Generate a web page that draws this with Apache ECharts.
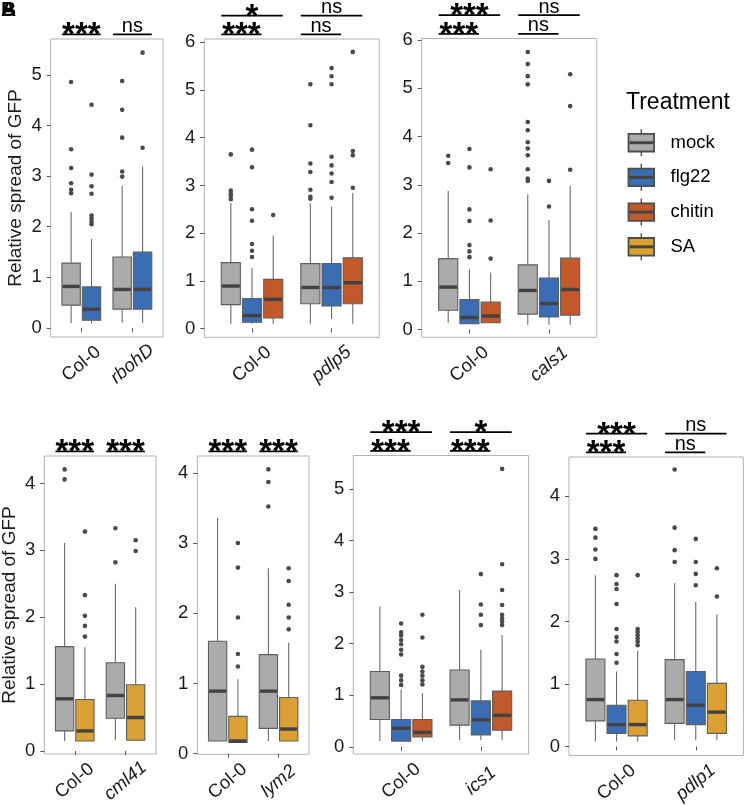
<!DOCTYPE html>
<html><head><meta charset="utf-8">
<script src="https://cdn.jsdelivr.net/npm/echarts@6/dist/echarts.min.js"></script>
<style>html,body{margin:0;padding:0;background:#fff}#c{width:745px;height:805px}</style>
</head><body><div id="c"></div>
<script>
// ================= DATA =================
const treatments = ['mock', 'flg22', 'chitin', 'SA'];

// stats per box: [lower whisker, Q1, median, Q3, upper whisker]
// ---- rbohD ----
const rbohD_categories = ['Col-0', 'rbohD'];
const rbohD_treatments = ['mock', 'flg22'];
const rbohD_mock = [[0.09, 0.45, 0.82, 1.28, 2.29], [0.10, 0.37, 0.76, 1.40, 2.81]];
const rbohD_mock_out = [[4.86, 3.53, 3.16, 2.86, 2.73, 2.66], [4.88, 4.31, 3.76, 3.09, 2.99]];
const rbohD_flg22 = [[0.085, 0.15, 0.37, 0.81, 1.76], [0.10, 0.37, 0.76, 1.50, 3.19]];
const rbohD_flg22_out = [[4.41, 3.03, 2.80, 2.65, 2.22, 2.16, 2.10, 2.05], [5.44, 3.56]];
const rbohD_signif = [['***'], ['ns']];
const rbohD_yTicks = [0, 1, 2, 3, 4, 5];

// ---- pdlp5 ----
const pdlp5_categories = ['Col-0', 'pdlp5'];
const pdlp5_treatments = ['mock', 'flg22', 'chitin'];
const pdlp5_mock = [[0.10, 0.50, 0.89, 1.38, 2.63], [0.10, 0.52, 0.86, 1.36, 2.62]];
const pdlp5_mock_out = [[3.65, 2.89, 2.83, 2.78, 2.71], [5.12, 4.26, 3.46, 3.28, 2.91, 2.76, 2.72]];
const pdlp5_flg22 = [[0.10, 0.13, 0.27, 0.63, 1.27], [0.20, 0.47, 0.86, 1.36, 2.55]];
const pdlp5_flg22_out = [[3.75, 3.38, 2.50, 2.26, 1.77, 1.63, 1.50], [5.46, 5.29, 5.12, 3.60, 3.42, 3.25, 3.07, 2.74]];
const pdlp5_chitin = [[0.10, 0.22, 0.61, 1.03, 1.95], [0.10, 0.52, 0.96, 1.48, 2.84]];
const pdlp5_chitin_out = [[2.38], [5.80, 3.72, 3.63, 2.95]];
const pdlp5_signif = [['***', '*'], ['ns', 'ns']];
const pdlp5_yTicks = [0, 1, 2, 3, 4, 5, 6];

// ---- cals1 ----
const cals1_categories = ['Col-0', 'cals1'];
const cals1_treatments = ['mock', 'flg22', 'chitin'];
const cals1_mock = [[0.14, 0.40, 0.88, 1.47, 2.87], [0.10, 0.32, 0.81, 1.34, 2.80]];
const cals1_mock_out = [[3.60, 3.45], [5.75, 5.50, 5.25, 5.08, 4.30, 4.13, 3.88, 3.75, 3.61, 3.32, 3.13, 3.08]];
const cals1_flg22 = [[0.12, 0.12, 0.25, 0.62, 1.25], [0.10, 0.26, 0.54, 1.07, 2.27]];
const cals1_flg22_out = [[3.74, 3.36, 2.49, 2.25, 1.75, 1.62, 1.50], [3.08, 2.55]];
const cals1_chitin = [[0.14, 0.14, 0.28, 0.57, 1.18], [0.10, 0.30, 0.83, 1.48, 2.98]];
const cals1_chitin_out = [[3.32, 2.26, 1.47], [5.29, 4.63, 3.31]];
const cals1_signif = [['***', '***'], ['ns', 'ns']];
const cals1_yTicks = [0, 1, 2, 3, 4, 5, 6];

// ---- cml41 ----
const cml41_categories = ['Col-0', 'cml41'];
const cml41_treatments = ['mock', 'SA'];
const cml41_mock = [[0.15, 0.30, 0.78, 1.56, 3.11], [0.16, 0.49, 0.83, 1.32, 2.50]];
const cml41_mock_out = [[4.21, 4.06], [3.33, 2.82]];
const cml41_SA = [[0.15, 0.15, 0.30, 0.77, 1.55], [0.16, 0.16, 0.50, 0.99, 2.15]];
const cml41_SA_out = [[3.28, 2.33, 2.02, 1.87, 1.71], [3.15, 2.99]];
const cml41_signif = [['***'], ['***']];
const cml41_yTicks = [0, 1, 2, 3, 4];

// ---- lym2 ----
const lym2_categories = ['Col-0', 'lym2'];
const lym2_treatments = ['mock', 'SA'];
const lym2_mock = [[0.18, 0.18, 0.89, 1.60, 3.36], [0.18, 0.36, 0.89, 1.41, 2.64]];
const lym2_mock_out = [[], [4.05, 3.87, 3.52]];
const lym2_SA = [[0.16, 0.16, 0.18, 0.53, 1.06], [0.18, 0.18, 0.35, 0.80, 1.58]];
const lym2_SA_out = [[3.00, 2.65, 1.94, 1.42, 1.24], [2.64, 2.46, 2.12, 1.94, 1.77]];
const lym2_signif = [['***'], ['***']];
const lym2_yTicks = [0, 1, 2, 3, 4];

// ---- ics1 ----
const ics1_categories = ['Col-0', 'ics1'];
const ics1_treatments = ['mock', 'flg22', 'chitin'];
const ics1_mock = [[0.11, 0.53, 0.95, 1.46, 2.72], [0.13, 0.42, 0.91, 1.49, 3.04]];
const ics1_mock_out = [[], []];
const ics1_flg22 = [[0.11, 0.11, 0.36, 0.53, 1.11], [0.13, 0.23, 0.52, 0.89, 1.88]];
const ics1_flg22_out = [[2.39, 2.22, 2.16, 2.07, 1.99, 1.88, 1.79, 1.38, 1.29, 1.20], [3.35, 2.76, 2.56, 2.36]];
const ics1_chitin = [[0.11, 0.19, 0.28, 0.53, 1.04], [0.13, 0.32, 0.61, 1.08, 2.17]];
const ics1_chitin_out = [[2.56, 2.12, 1.55, 1.46, 1.38, 1.29, 1.21], [5.39, 3.54, 3.04, 2.75, 2.56, 2.49, 2.43, 2.36]];
const ics1_signif = [['***', '***'], ['***', '*']];
const ics1_yTicks = [0, 1, 2, 3, 4, 5];

// ---- pdlp1 ----
const pdlp1_categories = ['Col-0', 'pdlp1'];
const pdlp1_treatments = ['mock', 'flg22', 'SA'];
const pdlp1_mock = [[0.08, 0.41, 0.75, 1.40, 2.74], [0.10, 0.37, 0.75, 1.39, 2.61]];
const pdlp1_mock_out = [[3.48, 3.34, 3.15, 3.00], [4.43, 3.50, 3.14, 2.95]];
const pdlp1_flg22 = [[0.08, 0.21, 0.35, 0.66, 1.20], [0.10, 0.35, 0.66, 1.20, 2.31]];
const pdlp1_flg22_out = [[2.74, 2.60, 2.52, 2.28, 1.88, 1.75, 1.68, 1.48, 1.34], [3.32, 2.95, 2.76, 2.58]];
const pdlp1_SA = [[0.08, 0.17, 0.35, 0.74, 1.53], [0.10, 0.21, 0.55, 1.01, 2.11]];
const pdlp1_SA_out = [[2.74, 1.88, 1.83, 1.78, 1.73, 1.68, 1.62], [2.85, 2.40]];
const pdlp1_signif = [['***', '***'], ['ns', 'ns']];
const pdlp1_yTicks = [0, 1, 2, 3, 4];

const yAxisTitle = 'Relative spread of GFP';
const legendTitle = 'Treatment';

// ================= STYLE / LAYOUT =================
const FONT = "'Liberation Sans', Arial, Helvetica, sans-serif";
const COLORS = { mock: '#ABABAB', flg22: '#3B6DB4', chitin: '#C2592A', SA: '#DBA033' };

const panels = [
  { categories: rbohD_categories, treatments: rbohD_treatments, stats: { mock: rbohD_mock, flg22: rbohD_flg22 }, outliers: { mock: rbohD_mock_out, flg22: rbohD_flg22_out }, signif: rbohD_signif, ticks: rbohD_yTicks,
    layout: { left: 50.7, top: 39, width: 112.3, height: 298, yMin: -0.18, yMax: 5.71, title: true } },
  { categories: pdlp5_categories, treatments: pdlp5_treatments, stats: { mock: pdlp5_mock, flg22: pdlp5_flg22, chitin: pdlp5_chitin }, outliers: { mock: pdlp5_mock_out, flg22: pdlp5_flg22_out, chitin: pdlp5_chitin_out }, signif: pdlp5_signif, ticks: pdlp5_yTicks,
    layout: { left: 204.3, top: 39, width: 175, height: 298.3, yMin: -0.185, yMax: 6.07 } },
  { categories: cals1_categories, treatments: cals1_treatments, stats: { mock: cals1_mock, flg22: cals1_flg22, chitin: cals1_chitin }, outliers: { mock: cals1_mock_out, flg22: cals1_flg22_out, chitin: cals1_chitin_out }, signif: cals1_signif, ticks: cals1_yTicks,
    layout: { left: 421.7, top: 38.5, width: 175, height: 298.8, yMin: -0.16, yMax: 6.03 } },
  { categories: cml41_categories, treatments: cml41_treatments, stats: { mock: cml41_mock, SA: cml41_SA }, outliers: { mock: cml41_mock_out, SA: cml41_SA_out }, signif: cml41_signif, ticks: cml41_yTicks,
    layout: { left: 44.3, top: 456, width: 111.7, height: 298, yMin: -0.045, yMax: 4.41, title: true } },
  { categories: lym2_categories, treatments: lym2_treatments, stats: { mock: lym2_mock, SA: lym2_SA }, outliers: { mock: lym2_mock_out, SA: lym2_SA_out }, signif: lym2_signif, ticks: lym2_yTicks,
    layout: { left: 197.3, top: 456, width: 111.7, height: 298.3, yMin: -0.01, yMax: 4.24 } },
  { categories: ics1_categories, treatments: ics1_treatments, stats: { mock: ics1_mock, flg22: ics1_flg22, chitin: ics1_chitin }, outliers: { mock: ics1_mock_out, flg22: ics1_flg22_out, chitin: ics1_chitin_out }, signif: ics1_signif, ticks: ics1_yTicks,
    layout: { left: 353.3, top: 455.5, width: 175.4, height: 298.5, yMin: -0.14, yMax: 5.65 } },
  { categories: pdlp1_categories, treatments: pdlp1_treatments, stats: { mock: pdlp1_mock, flg22: pdlp1_flg22, SA: pdlp1_SA }, outliers: { mock: pdlp1_mock_out, flg22: pdlp1_flg22_out, SA: pdlp1_SA_out }, signif: pdlp1_signif, ticks: pdlp1_yTicks,
    layout: { left: 569, top: 457, width: 174.3, height: 298.5, yMin: -0.144, yMax: 4.63 } }
];

function boxRenderer(dodge, halfW, color) {
  return function (params, api) {
    const c = api.value(0) + dodge;
    const lo = api.coord([c, api.value(1)]);
    const q1 = api.coord([c, api.value(2)]);
    const md = api.coord([c, api.value(3)]);
    const q3 = api.coord([c, api.value(4)]);
    const hi = api.coord([c, api.value(5)]);
    const left = api.coord([c - halfW, 0])[0];
    const right = api.coord([c + halfW, 0])[0];
    const x = lo[0];
    return { type: 'group', children: [
      { type: 'line', shape: { x1: x, y1: hi[1], x2: x, y2: q3[1] }, style: { stroke: '#6a6a6a', lineWidth: 1.1 } },
      { type: 'line', shape: { x1: x, y1: q1[1], x2: x, y2: lo[1] }, style: { stroke: '#6a6a6a', lineWidth: 1.1 } },
      { type: 'rect', shape: { x: left, y: q3[1], width: right - left, height: Math.max(q1[1] - q3[1], 0.5) }, style: { fill: color, stroke: '#5e5e5e', lineWidth: 1.1 } },
      { type: 'line', shape: { x1: left + 0.6, y1: md[1], x2: right - 0.6, y2: md[1] }, style: { stroke: '#424242', lineWidth: 3.4 } }
    ] };
  };
}
function outlierRenderer(dodge) {
  return function (params, api) {
    const p = api.coord([api.value(0) + dodge, api.value(1)]);
    return { type: 'circle', shape: { cx: p[0], cy: p[1], r: 2.3 }, style: { fill: '#4a4a4a' } };
  };
}
function annRenderer(ann, n) {
  const slot = 0.8 / n, halfW = 0.45 * slot;
  return function (params, api) {
    const a = ann[params.dataIndex];
    const off0 = (0 - (n - 1) / 2) * slot, offj = (a.j - (n - 1) / 2) * slot;
    const x1 = api.coord([a.cat + off0 - halfW, 0])[0];
    const x2 = api.coord([a.cat + offj + halfW, 0])[0];
    const ly = params.coordSys.y - (a.j === 1 ? 4.7 : 23.3);
    const star = a.text.indexOf('*') >= 0;
    return { type: 'group', children: [
      { type: 'line', shape: { x1: x1, y1: ly, x2: x2, y2: ly }, style: { stroke: '#000', lineWidth: 1.8 } },
      { type: 'text', x: (x1 + x2) / 2, y: star ? ly + 2 : ly - 8,
        style: { text: a.text, fill: '#000', fontFamily: FONT, fontSize: star ? 33 : 20, fontWeight: star ? 'bold' : 'normal', align: 'center', verticalAlign: 'middle' } }
    ] };
  };
}

const grids = [], xAxes = [], yAxes = [], series = [];
panels.forEach(function (p, gi) {
  const L = p.layout;
  grids.push({ left: L.left, top: L.top, width: L.width, height: L.height, show: true, borderColor: '#b3b3b3', borderWidth: 1, backgroundColor: 'transparent', containLabel: false, outerBoundsMode: 'none' });
  const catVals = p.categories.map(function (_, i) { return i + 1; });
  xAxes.push({
    type: 'value', gridIndex: gi, min: 0.4, max: p.categories.length + 0.6,
    axisLine: { show: false }, splitLine: { show: false },
    axisTick: { show: true, length: 4, lineStyle: { color: '#555' }, customValues: catVals },
    axisLabel: {
      customValues: catVals, rotate: 40, align: 'center', verticalAlign: 'middle', margin: 27,
      fontSize: 18.5, fontFamily: FONT, color: '#1a1a1a',
      formatter: function (v) { const s = p.categories[Math.round(v) - 1]; return s === 'Col-0' ? s : '{i|' + s + '}'; },
      rich: { i: { fontStyle: 'italic', fontSize: 18.5, fontFamily: FONT, color: '#1a1a1a' } }
    }
  });
  yAxes.push({
    type: 'value', gridIndex: gi, min: L.yMin, max: L.yMax,
    axisLine: { show: false }, splitLine: { show: false },
    axisTick: { show: true, length: 4, lineStyle: { color: '#555' }, customValues: p.ticks },
    axisLabel: { customValues: p.ticks, fontSize: 18.5, fontFamily: FONT, color: '#1a1a1a', margin: 9 },
    name: L.title ? yAxisTitle : '', nameLocation: 'middle', nameGap: 25, nameMoveOverlap: false,
    nameTextStyle: { fontSize: 19, fontFamily: FONT, color: '#1a1a1a' }
  });
  const n = p.treatments.length, slot = 0.8 / n, halfW = 0.45 * slot;
  p.treatments.forEach(function (t, ti) {
    const dodge = (ti - (n - 1) / 2) * slot;
    series.push({ type: 'custom', name: t, xAxisIndex: gi, yAxisIndex: gi, encode: { x: 0, y: [1, 2, 3, 4, 5] },
      data: p.stats[t].map(function (s, ci) { return [ci + 1].concat(s); }), renderItem: boxRenderer(dodge, halfW, COLORS[t]), z: 2, silent: true });
    const od = [];
    p.outliers[t].forEach(function (arr, ci) { arr.forEach(function (v) { od.push([ci + 1, v]); }); });
    series.push({ type: 'custom', name: t + ' outliers', xAxisIndex: gi, yAxisIndex: gi, encode: { x: 0, y: 1 },
      data: od, renderItem: outlierRenderer(dodge), z: 3, silent: true });
  });
  const ann = [];
  p.signif.forEach(function (labels, ci) { labels.forEach(function (txt, k) { ann.push({ cat: ci + 1, j: k + 1, text: txt }); }); });
  series.push({ type: 'custom', xAxisIndex: gi, yAxisIndex: gi, encode: { x: 0, y: 1 },
    data: ann.map(function (a) { return [a.cat, a.j]; }), renderItem: annRenderer(ann, n), z: 4, silent: true, clip: false });
});

// legend (drawn from the treatments list)
const gfx = [
  { type: 'text', x: 1, y: 0, style: { text: 'A', fontFamily: FONT, fontSize: 21, fontWeight: 'bold', fill: '#000' } },
  { type: 'text', x: 1, y: 0, style: { text: 'B', fontFamily: FONT, fontSize: 21, fontWeight: 'bold', fill: '#000' } },
  { type: 'text', x: 626, y: 103, style: { text: legendTitle, fontFamily: FONT, fontSize: 23, fill: '#000', verticalAlign: 'middle' } }
];
treatments.forEach(function (t, i) {
  const cy = 142.7 + i * 34.7;
  gfx.push({ type: 'line', shape: { x1: 641.3, y1: cy - 13.5, x2: 641.3, y2: cy + 13.5 }, style: { stroke: '#555', lineWidth: 1.5 } });
  gfx.push({ type: 'rect', shape: { x: 628.5, y: cy - 8.8, width: 25.6, height: 17.6 }, style: { fill: COLORS[t], stroke: '#4d4d4d', lineWidth: 1.8 } });
  gfx.push({ type: 'line', shape: { x1: 629.5, y1: cy, x2: 653.1, y2: cy }, style: { stroke: '#444', lineWidth: 3 } });
  gfx.push({ type: 'text', x: 670.5, y: cy, style: { text: t, fontFamily: FONT, fontSize: 18.5, fill: '#000', verticalAlign: 'middle' } });
});

const chart = echarts.init(document.getElementById('c'), null, { renderer: 'canvas', width: 745, height: 805 });
chart.setOption({
  animation: false,
  backgroundColor: '#fff',
  textStyle: { fontFamily: FONT },
  grid: grids, xAxis: xAxes, yAxis: yAxes, series: series,
  graphic: { elements: gfx }
});
</script>
</body></html>
